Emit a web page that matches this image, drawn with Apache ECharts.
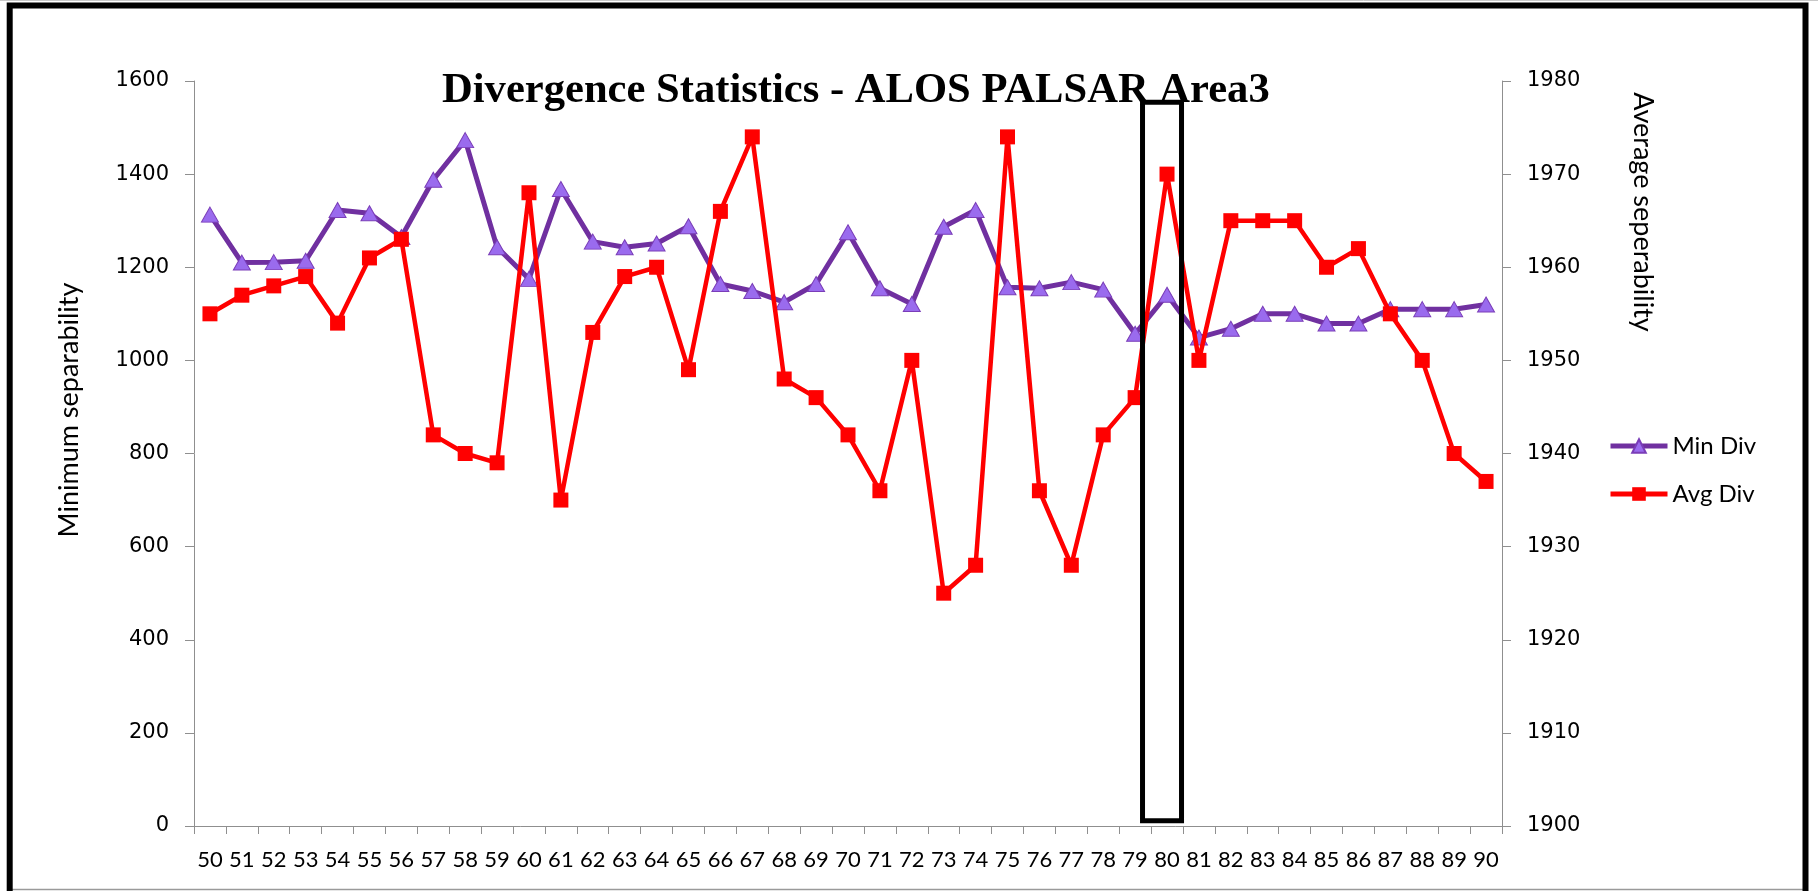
<!DOCTYPE html>
<html>
<head>
<meta charset="utf-8">
<script src="https://cdn.jsdelivr.net/npm/echarts@6/dist/echarts.min.js"></script>
<style>
  html, body { margin: 0; padding: 0; background: #ffffff; }
  #chart { width: 1818px; height: 891px; }
</style>
</head>
<body>
<div id="chart"></div>
<script>
// Band numbers along the horizontal axis
const bands = ['50','51','52','53','54','55','56','57','58','59','60','61','62','63','64','65','66','67','68','69','70',
               '71','72','73','74','75','76','77','78','79','80','81','82','83','84','85','86','87','88','89','90'];

// Minimum separability (left axis)
const minDiv = [1313, 1210, 1211, 1214, 1323, 1316, 1265, 1388, 1473, 1243, 1175, 1368, 1255, 1243, 1251, 1288,
                1164, 1149, 1125, 1164, 1275, 1155, 1121, 1287, 1323, 1157, 1155, 1168, 1152, 1057, 1141,
                1049, 1068, 1100, 1100, 1079, 1079, 1110, 1110, 1110, 1120];

// Average separability (right axis)
const avgDiv = [1955, 1957, 1958, 1959, 1954, 1961, 1963, 1942, 1940, 1939, 1968, 1935, 1953, 1959, 1960, 1949,
                1966, 1974, 1948, 1946, 1942, 1936, 1950, 1925, 1928, 1974, 1936, 1928, 1942, 1946, 1970,
                1950, 1965, 1965, 1965, 1960, 1962, 1955, 1950, 1940, 1937];

const seriesNames = ['Min Div', 'Avg Div'];
const leftRange = [0, 1600, 200];
const rightRange = [1900, 1980, 10];
const highlightBand = '80';

const TICK_FONT = "'DejaVu Sans', Verdana, sans-serif";
const BAND_FONT = "'Liberation Sans Narrow', Lato, sans-serif";
const NAME_FONT = "Lato, 'Open Sans', sans-serif";
const AXIS_GREY = '#8f8f8f';

const chart = echarts.init(document.getElementById('chart'), null, { renderer: 'canvas' });

const valueAxis = (range, position) => ({
  type: 'value',
  position: position,
  min: range[0],
  max: range[1],
  interval: range[2],
  splitLine: { show: false },
  axisLine: { show: true, lineStyle: { color: AXIS_GREY, width: 1 } },
  axisTick: { show: true, inside: false, length: 9, lineStyle: { color: AXIS_GREY, width: 1 } },
  axisLabel: { color: '#000', fontFamily: TICK_FONT, fontSize: 21, margin: 25, formatter: v => String(v) }
});

chart.setOption({
  animation: false,
  backgroundColor: '#ffffff',
  title: {
    text: 'Divergence Statistics - ALOS PALSAR Area3',
    left: 442,
    top: 69,
    padding: 0,
    textStyle: {
      fontFamily: "'Liberation Serif', 'Times New Roman', serif",
      fontWeight: 'bold',
      fontSize: 42.6,
      color: '#000'
    }
  },
  grid: { left: 194, right: 316, top: 81, bottom: 65 },
  legend: {
    orient: 'vertical',
    left: 1603,
    top: 429,
    itemWidth: 57,
    itemHeight: 17,
    itemGap: 24,
    data: seriesNames,
    lineStyle: { width: 5 },
    textStyle: { fontFamily: NAME_FONT, fontSize: 24, lineHeight: 24, color: '#000' }
  },
  xAxis: {
    type: 'category',
    data: bands,
    boundaryGap: true,
    axisLine: { show: true, lineStyle: { color: AXIS_GREY, width: 1 } },
    axisTick: { show: true, inside: false, length: 8, alignWithLabel: false, lineStyle: { color: AXIS_GREY, width: 1 } },
    axisLabel: { interval: 0, color: '#000', fontFamily: BAND_FONT, fontSize: 22, lineHeight: 22, margin: 23 },
    splitLine: { show: false }
  },
  yAxis: [valueAxis(leftRange, 'left'), valueAxis(rightRange, 'right')],
  series: [
    {
      name: seriesNames[0],
      type: 'line',
      yAxisIndex: 0,
      data: minDiv,
      symbol: 'triangle',
      symbolSize: [17, 15],
      lineStyle: { color: '#7030A0', width: 5 },
      itemStyle: { color: '#9A6BEE', borderColor: '#7A3DB8', borderWidth: 1 },
      z: 2
    },
    {
      name: seriesNames[1],
      type: 'line',
      yAxisIndex: 1,
      data: avgDiv,
      symbol: 'rect',
      symbolSize: 15,
      lineStyle: { color: '#FF0000', width: 4.5 },
      itemStyle: { color: '#FF0000', borderColor: '#FF0000', borderWidth: 0 },
      z: 3
    }
  ]
});

// Axis titles, frame and the box around the highlighted band
const cx = chart.convertToPixel({ xAxisIndex: 0 }, highlightBand);
const yTop = chart.convertToPixel({ yAxisIndex: 0 }, leftRange[1]);
const yBot = chart.convertToPixel({ yAxisIndex: 0 }, leftRange[0]);

chart.setOption({
  graphic: [
    {
      type: 'text', x: 69, y: 410, rotation: Math.PI / 2,
      style: { text: 'Minimum separability', fontFamily: NAME_FONT, fontSize: 27, fill: '#000',
               align: 'center', verticalAlign: 'middle' }
    },
    {
      type: 'text', x: 1643, y: 212, rotation: -Math.PI / 2,
      style: { text: 'Average seperability', fontFamily: NAME_FONT, fontSize: 27, fill: '#000',
               align: 'center', verticalAlign: 'middle' }
    },
    {
      type: 'rect', z: 100,
      shape: { x: cx - 24.5, y: yTop + 21.3, width: 39, height: (yBot - 5.2) - (yTop + 21.3) },
      style: { fill: 'none', stroke: '#000', lineWidth: 5 }
    },
    {
      type: 'line', z: 100,
      shape: { x1: 0, y1: 0.5, x2: 1818, y2: 0.5 },
      style: { stroke: '#c8c8c8', lineWidth: 1 }
    },
    {
      type: 'line', z: 100,
      shape: { x1: 10, y1: 889.5, x2: 1806, y2: 889.5 },
      style: { stroke: '#9a9a9a', lineWidth: 1.5 }
    },
    {
      type: 'polyline', z: 101,
      shape: { points: [[9.7, 891], [9.7, 5.5], [1805.5, 5.5], [1805.5, 891]] },
      style: { fill: 'none', stroke: '#000', lineWidth: 6 }
    }
  ]
});
</script>
</body>
</html>
